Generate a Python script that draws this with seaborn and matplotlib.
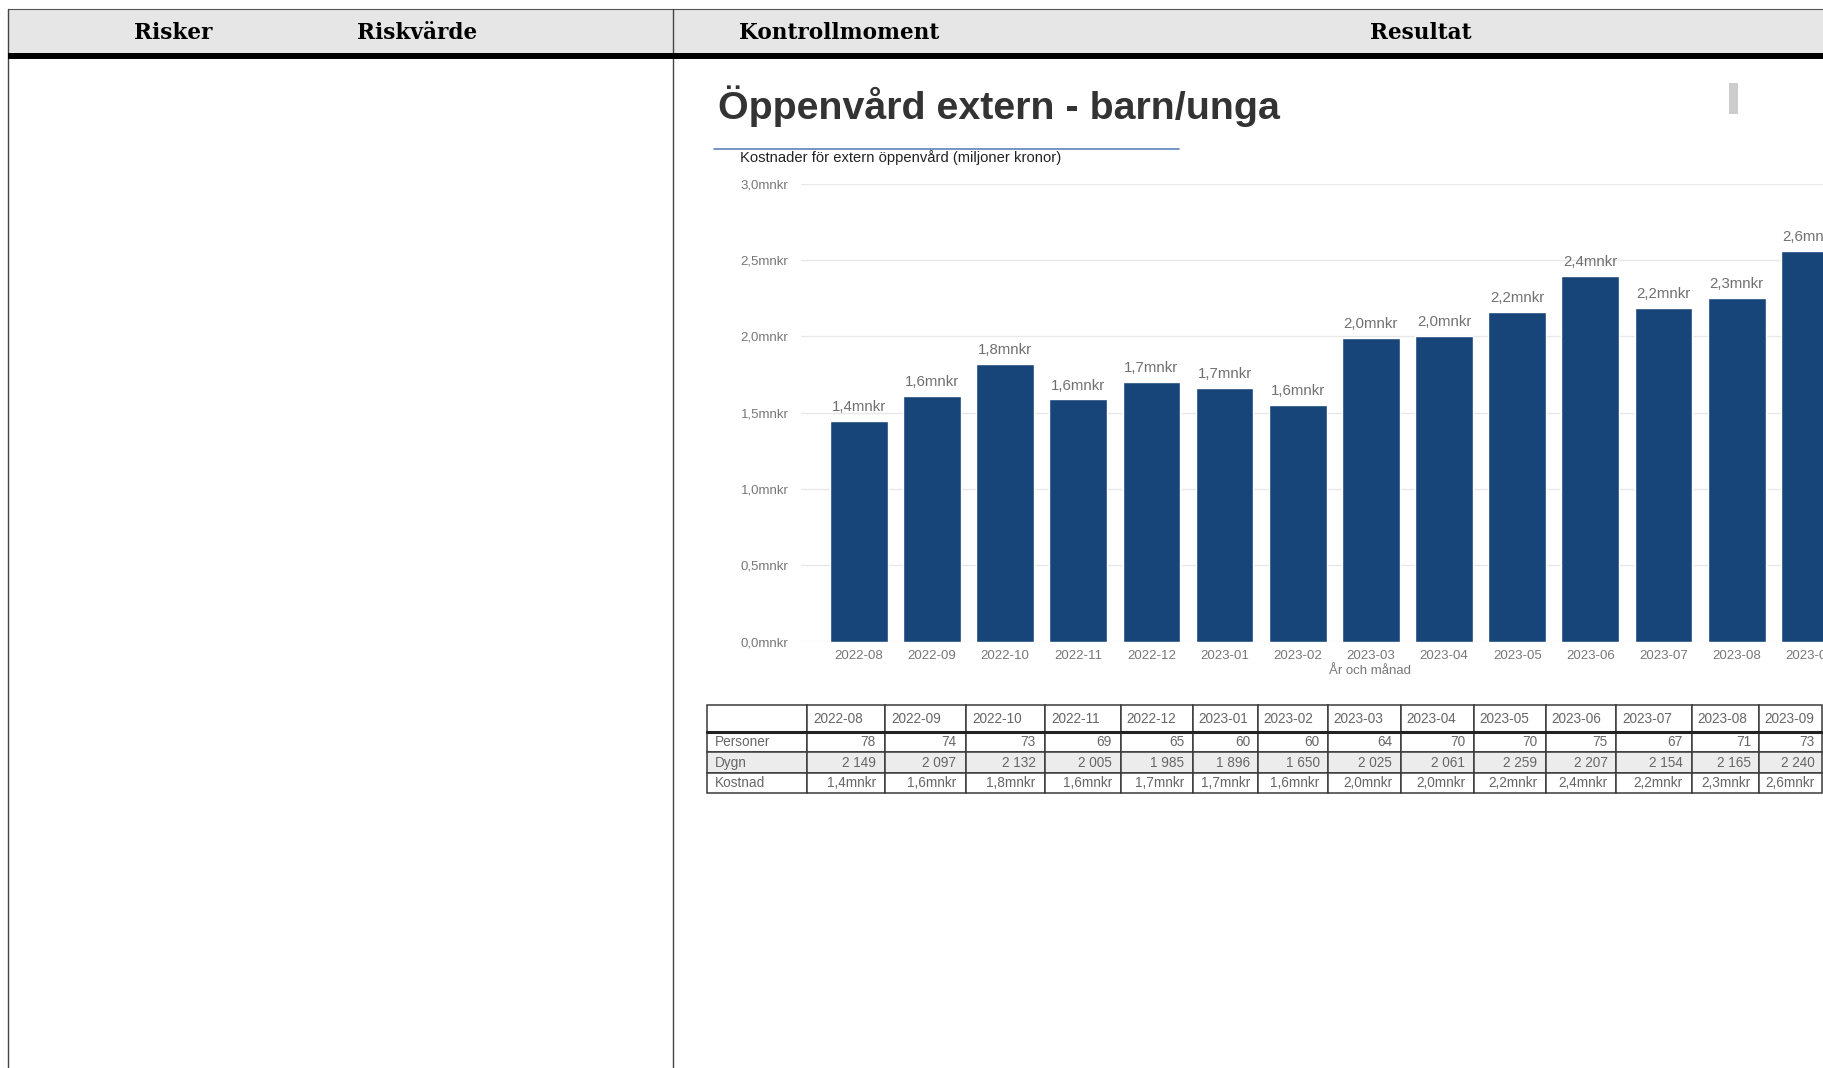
import matplotlib
matplotlib.use("Agg")
import matplotlib.pyplot as plt
import seaborn as sns
import pandas as pd
from matplotlib.patches import Rectangle
from matplotlib.ticker import FuncFormatter

# data
months = ["2022-08", "2022-09", "2022-10", "2022-11", "2022-12", "2023-01", "2023-02",
          "2023-03", "2023-04", "2023-05", "2023-06", "2023-07", "2023-08", "2023-09"]
kostnad = [1.444, 1.611, 1.817, 1.587, 1.704, 1.660, 1.554,
           1.992, 2.001, 2.163, 2.397, 2.187, 2.253, 2.557]
personer = [78, 74, 73, 69, 65, 60, 60, 64, 70, 70, 75, 67, 71, 73]
dygn = [2149, 2097, 2132, 2005, 1985, 1896, 1650, 2025, 2061, 2259, 2207, 2154, 2165, 2240]
row_labels = ["Personer", "Dygn", "Kostnad"]
doc_headers = ["Risker", "Riskvärde", "Kontrollmoment", "Resultat"]
y_ticks = [0.0, 0.5, 1.0, 1.5, 2.0, 2.5, 3.0]

title = "Öppenvård extern - barn/unga"
subtitle = "Kostnader för extern öppenvård (miljoner kronor)"
xlabel = "År och månad"


def mnkr(v):
    return f"{v:.1f}".replace(".", ",") + "mnkr"


def tusental(n):
    return f"{n:,}".replace(",", " ")


W, H = 1823, 1068
sns.set_theme(style="white")
plt.rcParams["font.family"] = ["Liberation Sans", "DejaVu Sans"]

fig = plt.figure(figsize=(W / 100, H / 100), dpi=100)

# sidans tabellram (pixelkoordinater)
bg = fig.add_axes([0, 0, 1, 1])
bg.set_xlim(0, W)
bg.set_ylim(H, 0)
bg.axis("off")
bg.add_patch(Rectangle((8, 9), W - 8, 45, facecolor="#e6e6e6", edgecolor="none"))
bg.plot([8, W], [9, 9], color="#555555", lw=0.8)
bg.plot([8, 8], [9, H], color="#444444", lw=1)
bg.plot([673, 673], [9, H], color="#444444", lw=1)
bg.plot([8, W], [56, 56], color="black", lw=4.3, solid_capstyle="butt")
for txt, x in zip(doc_headers, [173, 417, 839, 1421]):
    bg.text(x, 33, txt, ha="center", va="center", fontsize=15.6, fontweight="bold",
            family="DejaVu Serif", color="black")

bg.text(718, 119, title, ha="left", va="baseline", fontsize=28.4, fontweight="bold", color="#333333")
bg.plot([714, 1179], [149, 149], color="#5b82be", lw=1.2)
bg.text(740, 157.5, subtitle, ha="left", va="center", fontsize=10.6, color="#222222")
bg.add_patch(Rectangle((1729, 83), 9, 31, facecolor="#cccccc", edgecolor="none"))

# stapeldiagram
ax_top, ax_bot = 183.7, 641.8
ax = fig.add_axes([801 / W, 1 - ax_bot / H, (W - 801) / W, (ax_bot - ax_top) / H])
df = pd.DataFrame({"month": months, "kostnad": kostnad})
sns.barplot(data=df, x="month", y="kostnad", color="#17457a", saturation=1, width=0.79, ax=ax)
ax.set_xlim(-0.79, 13.18)
ax.set_ylim(0, 3)
ax.set_yticks(y_ticks)
ax.yaxis.set_major_formatter(FuncFormatter(lambda v, p: mnkr(v)))
ax.grid(axis="y", color="#e8e8e8", lw=1)
ax.set_axisbelow(True)
for s in ax.spines.values():
    s.set_visible(False)
ax.tick_params(axis="both", length=0, labelsize=9.5, labelcolor="#777777")
ax.tick_params(axis="y", pad=9)
ax.tick_params(axis="x", pad=6)
ax.bar_label(ax.containers[0], labels=[mnkr(v) for v in kostnad], padding=5,
             fontsize=10.8, color="#707070")
ax.set_ylabel("")
ax.set_xlabel(xlabel, fontsize=9.5, color="#777777")
ax.xaxis.set_label_coords(0.557, -0.051)

# datatabell under diagrammet
col_edges = [707, 807, 885, 966, 1045, 1121, 1193, 1258, 1328, 1401, 1474, 1546, 1616, 1692, 1759, 1822]
col_widths = [b - a for a, b in zip(col_edges[:-1], col_edges[1:])]
tax = fig.add_axes([707 / W, 1 - 793 / H, (1822 - 707) / W, 88 / H])
tax.axis("off")

cell_text = [[""] + months,
             [row_labels[0]] + [str(p) for p in personer],
             [row_labels[1]] + [tusental(d) for d in dygn],
             [row_labels[2]] + [mnkr(v) for v in kostnad]]
tbl = tax.table(cellText=cell_text, colWidths=[w / sum(col_widths) for w in col_widths],
                bbox=[0, 0, 1, 1], cellLoc="right")
tbl.auto_set_font_size(False)
tbl.set_fontsize(9.8)
for (r, c), cell in tbl.get_celld().items():
    cell.set_edgecolor("#3a3a3a")
    cell.set_linewidth(1.1)
    cell.set_height(27 if r == 0 else 20.3)
    cell.get_text().set_color("#666666")
    if r == 0 or c == 0:
        cell.get_text().set_ha("left")
        cell.PAD = 0.08
    else:
        cell.PAD = 0.12
    if r == 2:
        cell.set_facecolor("#ececec")
tax.plot([0, 1], [1 - 27 / 88, 1 - 27 / 88], transform=tax.transAxes, color="#222222",
         lw=2.2, clip_on=False)

fig.savefig("out.png", dpi=100)
